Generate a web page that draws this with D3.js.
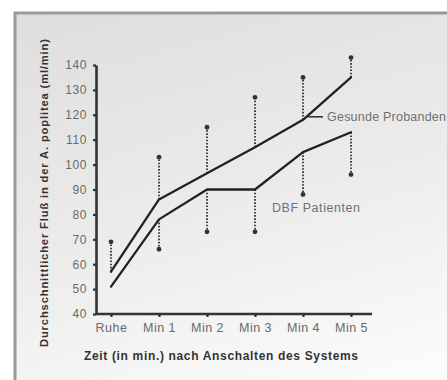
<!DOCTYPE html>
<html>
<head>
<meta charset="utf-8">
<script src="https://cdn.jsdelivr.net/npm/d3@7"></script>
<style>
  html, body { margin: 0; padding: 0; background: #fff; overflow: hidden; }
  svg { display: block; }
</style>
</head>
<body>
<svg id="chart" width="447" height="380"></svg>
<script>
// Zeitpunkte nach Anschalten des Systems
const categories = ["Ruhe", "Min 1", "Min 2", "Min 3", "Min 4", "Min 5"];

// Mittlerer Fluß (ml/min), Gesunde Probanden, mit oberer Standardabweichung
const gesundMean = [57, 86, 96.5, 107, 118, 135];
const gesundUpper = [69, 103, 115, 127, 135, 143];

// Mittlerer Fluß (ml/min), DBF Patienten, mit unterer Standardabweichung
const dbfMean = [51, 78, 90, 90, 105, 113];
const dbfLower = [null, 66, 73, 73, 88, 96];

const yTicks = [40, 50, 60, 70, 80, 90, 100, 110, 120, 130, 140];

const svg = d3.select("#chart");

// Hintergrund mit Verlauf und Rahmen
const defs = svg.append("defs");
const grad = defs.append("linearGradient")
  .attr("id", "bg").attr("x1", "0").attr("y1", "0").attr("x2", "0.35").attr("y2", "1");
grad.append("stop").attr("offset", "0").attr("stop-color", "#dedede");
grad.append("stop").attr("offset", "0.55").attr("stop-color", "#ececec");
grad.append("stop").attr("offset", "1").attr("stop-color", "#fbfbfb");

svg.append("rect").attr("x", 15).attr("y", 13).attr("width", 520).attr("height", 420)
  .attr("fill", "url(#bg)").attr("stroke", "#9a9a9a").attr("stroke-width", 3);

const x = d3.scalePoint().domain(categories).range([111, 351]);
const y = d3.scaleLinear().domain([40, 140]).range([314, 65]);

const axisColor = "#333";
const labelColor = "#6a6a6a";
const font = "'Liberation Sans', Arial, sans-serif";

// Y-Achse
const yAxis = svg.append("g").attr("transform", "translate(96,0)")
  .call(d3.axisLeft(y).tickValues(yTicks).tickSize(3).tickPadding(6).tickSizeOuter(0));
yAxis.select(".domain").attr("stroke", axisColor).attr("stroke-width", 2.6);
yAxis.selectAll(".tick line").attr("stroke", axisColor).attr("stroke-width", 2.2);
yAxis.selectAll(".tick text").attr("fill", labelColor)
  .style("font-family", font).style("font-size", "12px").style("letter-spacing", "0.6px");

// X-Achse
const xAxis = svg.append("g").attr("transform", "translate(0,314)")
  .call(d3.axisBottom(x).tickSize(3).tickPadding(6).tickSizeOuter(0));
xAxis.select(".domain").attr("d", "M96,0H372").attr("stroke", axisColor).attr("stroke-width", 2.6);
xAxis.selectAll(".tick line").attr("stroke", axisColor).attr("stroke-width", 2.2);
xAxis.selectAll(".tick text").attr("fill", labelColor)
  .style("font-family", font).style("font-size", "12.5px").style("letter-spacing", "0.5px");

// Fehlerbalken (gepunktet) mit Endmarken
function errorBars(means, ends) {
  const g = svg.append("g");
  categories.forEach((c, i) => {
    if (ends[i] == null) return;
    g.append("line")
      .attr("x1", x(c)).attr("x2", x(c))
      .attr("y1", y(means[i])).attr("y2", y(ends[i]))
      .attr("stroke", "#444").attr("stroke-width", 2)
      .attr("stroke-dasharray", "1.6,1.6");
    g.append("circle").attr("cx", x(c)).attr("cy", y(ends[i])).attr("r", 2.4)
      .attr("fill", "#333");
  });
}
errorBars(gesundMean, gesundUpper);
errorBars(dbfMean, dbfLower);

// Verlaufslinien
const line = d3.line().x((d, i) => x(categories[i])).y(d => y(d));
[gesundMean, dbfMean].forEach(s => {
  svg.append("path").datum(s).attr("d", line)
    .attr("fill", "none").attr("stroke", "#222").attr("stroke-width", 2.3)
    .attr("stroke-linejoin", "round").attr("stroke-linecap", "round");
});

// Beschriftung der Kurven
svg.append("line").attr("x1", x("Min 4") + 5).attr("x2", x("Min 4") + 20)
  .attr("y1", y(119.2)).attr("y2", y(119.2))
  .attr("stroke", "#333").attr("stroke-width", 1.6);
svg.append("text").attr("x", 327).attr("y", y(119.2) + 4.5)
  .attr("fill", "#707070").style("font-family", font).style("font-size", "12.5px")
  .attr("textLength", 119).attr("lengthAdjust", "spacing")
  .text("Gesunde Probanden");
svg.append("text").attr("x", 272).attr("y", 211.5)
  .attr("fill", "#707070").style("font-family", font).style("font-size", "12.5px")
  .attr("textLength", 88).attr("lengthAdjust", "spacing")
  .text("DBF Patienten");

// Achsentitel
svg.append("text")
  .attr("transform", "translate(48,193) rotate(-90)")
  .attr("text-anchor", "middle")
  .attr("fill", "#333").style("font-family", font).style("font-size", "11.2px")
  .style("font-weight", "bold")
  .attr("textLength", 308).attr("lengthAdjust", "spacing")
  .text("Durchschnittlicher Fluß in der A. poplitea (ml/min)");
svg.append("text")
  .attr("x", 221).attr("y", 360).attr("text-anchor", "middle")
  .attr("fill", "#333").style("font-family", font).style("font-size", "12px")
  .style("font-weight", "bold")
  .attr("textLength", 274).attr("lengthAdjust", "spacing")
  .text("Zeit (in min.) nach Anschalten des Systems");
</script>
</body>
</html>
